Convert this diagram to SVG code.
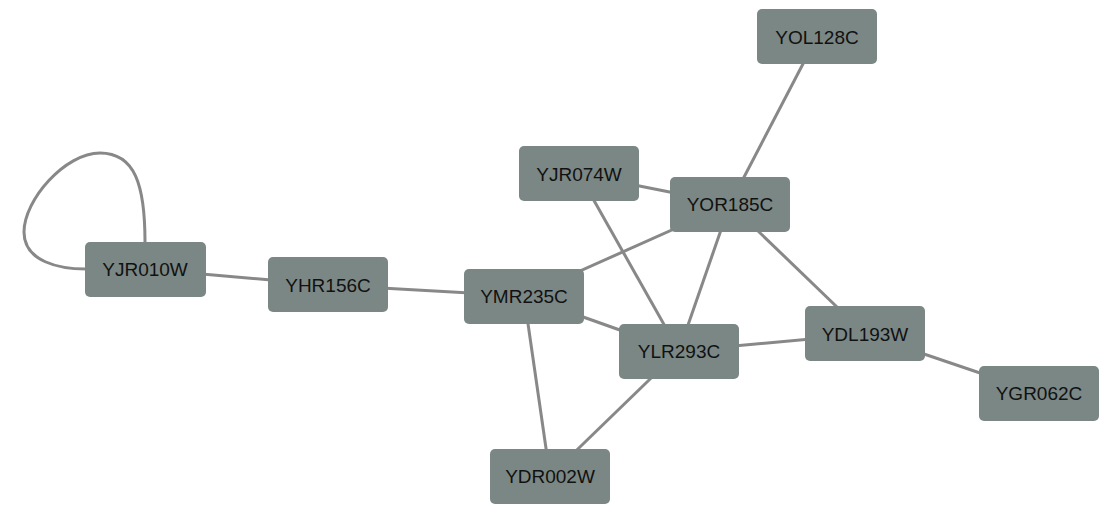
<svg xmlns="http://www.w3.org/2000/svg" width="1102" height="532" viewBox="0 0 1102 532">
<style>
.e{stroke:#888888;stroke-width:3;fill:none}
.n rect{fill:#7b8784;stroke:none}
.n text{font-family:"Liberation Sans",Arial,sans-serif;font-size:19px;fill:#111111;text-anchor:middle;dominant-baseline:central}
</style>
<rect width="1102" height="532" fill="#ffffff"/>
<g id="edges">
<path class="e" d="M145,242 C145,185 135,153 100,153 C65,153 24,200 24,232 C24,262 60,269 86,269"/>
<line class="e" x1="817" y1="37" x2="730" y2="204"/>
<line class="e" x1="579" y1="174" x2="730" y2="204"/>
<line class="e" x1="579" y1="174" x2="679" y2="351"/>
<line class="e" x1="730" y1="204" x2="524" y2="296"/>
<line class="e" x1="730" y1="204" x2="679" y2="351"/>
<line class="e" x1="730" y1="204" x2="865" y2="334"/>
<line class="e" x1="145" y1="269" x2="328" y2="285"/>
<line class="e" x1="328" y1="285" x2="524" y2="296"/>
<line class="e" x1="524" y1="296" x2="679" y2="351"/>
<line class="e" x1="524" y1="296" x2="550" y2="476"/>
<line class="e" x1="679" y1="351" x2="550" y2="476"/>
<line class="e" x1="679" y1="351" x2="865" y2="334"/>
<line class="e" x1="865" y1="334" x2="1039" y2="393"/>
</g>
<g id="YOL128C" class="n"><rect x="757" y="9" width="120" height="55" rx="5"/><text x="817" y="37">YOL128C</text></g>
<g id="YJR074W" class="n"><rect x="519" y="146" width="120" height="55" rx="5"/><text x="579" y="174">YJR074W</text></g>
<g id="YOR185C" class="n"><rect x="670" y="177" width="120" height="55" rx="5"/><text x="730" y="204">YOR185C</text></g>
<g id="YJR010W" class="n"><rect x="85" y="242" width="121" height="55" rx="5"/><text x="145" y="269">YJR010W</text></g>
<g id="YHR156C" class="n"><rect x="268" y="257" width="120" height="55" rx="5"/><text x="328" y="285">YHR156C</text></g>
<g id="YMR235C" class="n"><rect x="464" y="269" width="120" height="55" rx="5"/><text x="524" y="296">YMR235C</text></g>
<g id="YLR293C" class="n"><rect x="619" y="324" width="120" height="55" rx="5"/><text x="679" y="351">YLR293C</text></g>
<g id="YDL193W" class="n"><rect x="805" y="306" width="120" height="55" rx="5"/><text x="865" y="334">YDL193W</text></g>
<g id="YGR062C" class="n"><rect x="979" y="366" width="120" height="55" rx="5"/><text x="1039" y="393">YGR062C</text></g>
<g id="YDR002W" class="n"><rect x="490" y="449" width="120" height="55" rx="5"/><text x="550" y="476">YDR002W</text></g>
</svg>
